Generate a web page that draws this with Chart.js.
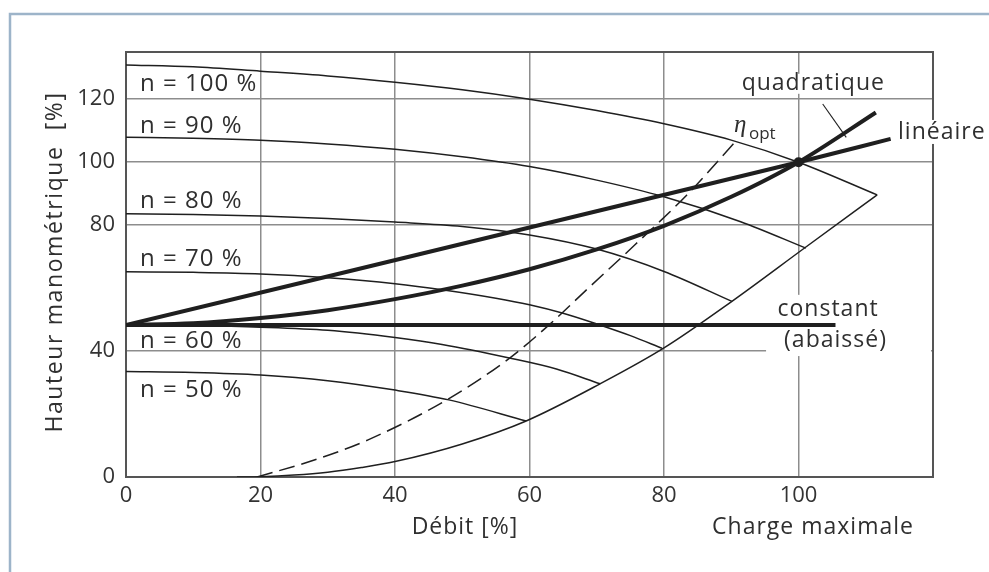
<!DOCTYPE html>
<html>
<head>
<meta charset="utf-8">
<script src="https://cdn.jsdelivr.net/npm/chart.js@4.4.1/dist/chart.umd.min.js"></script>
<style>
  html, body { margin: 0; padding: 0; background: #fff; }
  #chart { display: block; }
</style>
</head>
<body>
<canvas id="chart" width="989" height="572"></canvas>
<script>
// Axis ticks
const flowTicks = [0, 20, 40, 60, 80, 100];
const headTicks = [0, 40, 80, 100, 120];

// Pump curves for each speed (flow %, head %)
const n100Flow = [0, 10, 20, 30, 40, 50, 60, 70, 80, 90, 100, 111.7];
const n100Head = [130.9, 130.3, 128.9, 127.4, 125.4, 123.0, 120.0, 116.4, 112.2, 107.0, 100.0, 89.6];
const n90Flow = [0, 10, 20, 30, 40, 50, 60, 70, 80, 91.4, 101.1];
const n90Head = [107.9, 107.6, 107.0, 105.8, 104.1, 101.7, 98.6, 94.3, 89.0, 81.1, 72.7];
const n80Flow = [0, 10, 20, 30, 40, 50, 60, 70, 80, 90.1];
const n80Head = [83.6, 83.4, 82.9, 82.1, 81.0, 79.6, 76.9, 72.4, 65.3, 55.8];
const n70Flow = [0, 10, 20, 30, 40, 47, 55, 60, 65, 70, 75, 79.7];
const n70Head = [65.2, 65.0, 64.5, 63.3, 61.4, 59.5, 56.8, 54.7, 52.0, 48.6, 44.9, 40.9];
const n60Flow = [0, 10, 20, 30, 40, 47, 57, 64, 70.5];
const n60Head = [48.3, 48.1, 47.6, 46.6, 44.3, 42.1, 37.8, 34.3, 29.6];
const n50Flow = [0, 10, 20, 30, 40, 48, 59.5];
const n50Head = [33.5, 33.2, 32.4, 30.6, 27.6, 24.5, 17.8];

// Limit curve joining the ends of the pump curves
const limitFlow = [16.5, 20, 25, 30, 35, 40, 50, 59.5, 70.5, 80, 90.1, 101, 111.7];
const limitHead = [0, 0.1, 0.6, 1.5, 3.0, 4.9, 10.5, 17.8, 29.6, 41.0, 55.8, 72.9, 89.6];

// Best efficiency line (dashed)
const etaFlow = [19.5, 28, 36, 47.7, 57, 63, 68, 75.8, 83.4, 90.4];
const etaHead = [0, 5.4, 11.8, 24.5, 37.7, 48.5, 58.5, 74.0, 89.6, 106.0];

// Control modes
const quadFlow = [0, 10, 20, 30, 40, 50, 60, 70, 80, 90, 100, 111.5];
const quadHead = [48.3, 48.8, 50.5, 53.0, 56.5, 60.8, 66.0, 72.3, 79.8, 89.0, 100.0, 115.8];
const linFlow = [0, 100, 113.7];
const linHead = [48.3, 100, 107.4];
const constFlow = [0, 105.5];
const constHead = [48.3, 48.3];

// Leader line of the "quadratique" label and the duty point
const leaderFlow = [103.6, 107.1];
const leaderHead = [118.5, 107.9];
const dutyFlow = [100];
const dutyHead = [100];

// Curve labels (anchor in data units)
const speedLabels = ['n = 100 %', 'n = 90 %', 'n = 80 %', 'n = 70 %', 'n = 60 %', 'n = 50 %'];
const speedLabelFlow = [2.1, 2.1, 2.1, 2.1, 2.1, 2.1];
const speedLabelHead = [124.9, 111.4, 87.7, 69.1, 43.1, 27.6];

function pts(xs, ys) {
  return xs.map((x, i) => ({ x: x, y: ys[i] }));
}

const ink = '#1f1f1f';
const textColor = '#2f2f2f';
const uiFont = '"Open Sans", "Noto Sans", sans-serif';
const big = '23px ' + uiFont;

function thin(data) {
  return { data: data, showLine: true, pointRadius: 0, borderColor: ink, borderWidth: 1.5, cubicInterpolationMode: 'monotone', fill: false };
}
function thick(data) {
  return { data: data, showLine: true, pointRadius: 0, borderColor: ink, borderWidth: 4, cubicInterpolationMode: 'monotone', fill: false };
}

const datasets = [
  { data: pts(dutyFlow, dutyHead), pointRadius: 5, pointBackgroundColor: ink, pointBorderWidth: 0, showLine: false },
  thick(pts(quadFlow, quadHead)),
  thick(pts(linFlow, linHead)),
  thick(pts(constFlow, constHead)),
  thin(pts(n100Flow, n100Head)),
  thin(pts(n90Flow, n90Head)),
  thin(pts(n80Flow, n80Head)),
  thin(pts(n70Flow, n70Head)),
  thin(pts(n60Flow, n60Head)),
  thin(pts(n50Flow, n50Head)),
  thin(pts(limitFlow, limitHead)),
  Object.assign(thin(pts(etaFlow, etaHead)), { borderDash: [16, 7] }),
  Object.assign(thin(pts(leaderFlow, leaderHead)), { borderWidth: 1.1, cubicInterpolationMode: 'default' })
];

// Side labels: text, anchor flow, anchor head, align, white box (left pad, half height, right pad)
const sideLabels = [
  ['quadratique', 102.2, 124.9, 'center', [2, 10, 2]],
  ['linéaire', 114.8, 109.6, 'left', [2, 12, 2]],
  ['constant', 104.4, 53.1, 'center', [16, 15, 16]],
  ['(abaissé)', 105.5, 43.5, 'center', [18, 16, 45]]
];

function setText(ctx, font, spacing, align) {
  ctx.font = font;
  ctx.letterSpacing = spacing || '0px';
  ctx.textAlign = align || 'left';
  ctx.textBaseline = 'middle';
}

function drawText(ctx, text, x, y, font, spacing, align) {
  ctx.save();
  setText(ctx, font, spacing, align);
  ctx.fillStyle = textColor;
  ctx.fillText(text, x, y);
  ctx.restore();
}

const framePlugin = {
  id: 'frame',
  beforeDraw(chart) {
    const ctx = chart.ctx;
    ctx.save();
    ctx.fillStyle = '#fff';
    ctx.fillRect(0, 0, chart.width, chart.height);
    // outer light blue border
    ctx.strokeStyle = '#9db4c9';
    ctx.lineWidth = 2.5;
    ctx.beginPath();
    ctx.moveTo(10, chart.height);
    ctx.lineTo(10, 14);
    ctx.lineTo(chart.width, 14);
    ctx.stroke();
    ctx.restore();
  },
  beforeDatasetsDraw(chart) {
    const ctx = chart.ctx;
    const a = chart.chartArea;
    const xs = chart.scales.x;
    const ys = chart.scales.y;

    ctx.save();
    ctx.strokeStyle = '#555';
    ctx.lineWidth = 2;
    ctx.strokeRect(a.left, a.top, a.right - a.left, a.bottom - a.top);

    // white boxes under side labels hide grid lines (kept inside the frame)
    sideLabels.forEach(l => {
      setText(ctx, big, '1px', l[3]);
      const w = ctx.measureText(l[0]).width;
      const x = xs.getPixelForValue(l[1]);
      const y = ys.getPixelForValue(l[2]);
      const left = l[3] === 'center' ? x - w / 2 : x;
      let right = left + w + l[4][2];
      if (l[0] !== 'linéaire') right = Math.min(right, a.right - 2);
      ctx.fillStyle = '#fff';
      ctx.fillRect(left - l[4][0], y - l[4][1], right - left + l[4][0], l[4][1] * 2);
    });
    ctx.restore();
  },
  afterDatasetsDraw(chart) {
    const ctx = chart.ctx;
    const xs = chart.scales.x;
    const ys = chart.scales.y;

    speedLabels.forEach((t, i) => {
      drawText(ctx, t, xs.getPixelForValue(speedLabelFlow[i]), ys.getPixelForValue(speedLabelHead[i]),
        '24px ' + uiFont, '1px');
    });

    sideLabels.forEach(l => {
      drawText(ctx, l[0], xs.getPixelForValue(l[1]), ys.getPixelForValue(l[2]), big, '1px', l[3]);
    });

    // eta opt
    const ex = xs.getPixelForValue(90.4);
    const ey = ys.getPixelForValue(110.9);
    drawText(ctx, 'η', ex, ey - 2, 'italic 25px "Liberation Serif", serif');
    drawText(ctx, 'opt', ex + 15, ey + 6, '17px ' + uiFont);

    // axis titles
    drawText(ctx, 'Débit [%]', 465, 527, big, '1px', 'center');
    drawText(ctx, 'Charge maximale', 813, 527, big, '1px', 'center');
    ctx.save();
    ctx.translate(55, 262);
    ctx.rotate(-Math.PI / 2);
    drawText(ctx, 'Hauteur manométrique  [%]', 0, 0, big, '1.6px', 'center');
    ctx.restore();
  }
};

const ctx = document.getElementById('chart').getContext('2d');
const chart = new Chart(ctx, {
  type: 'scatter',
  data: { datasets: datasets },
  options: {
    responsive: false,
    animation: false,
    events: [],
    layout: { padding: { left: 0, top: 52, right: 56, bottom: 0 } },
    plugins: { legend: { display: false }, tooltip: { enabled: false } },
    scales: {
      x: {
        type: 'linear', min: 0, max: 120,
        afterBuildTicks: s => { s.ticks = flowTicks.map(v => ({ value: v })); },
        afterFit: s => { s.height = 95; },
        grid: { color: '#8d8d8d', lineWidth: 1.5, drawTicks: false },
        border: { display: false },
        ticks: { color: '#333', font: { family: uiFont, size: 22 }, padding: 6, maxRotation: 0 }
      },
      y: {
        type: 'linear', min: 0, max: 135,
        afterBuildTicks: s => { s.ticks = headTicks.map(v => ({ value: v })); },
        afterFit: s => { s.width = 126; },
        grid: { color: '#8d8d8d', lineWidth: 1.5, drawTicks: false },
        border: { display: false },
        ticks: { color: '#333', font: { family: uiFont, size: 22 }, padding: 11 }
      }
    }
  },
  plugins: [framePlugin]
});
</script>
</body>
</html>
